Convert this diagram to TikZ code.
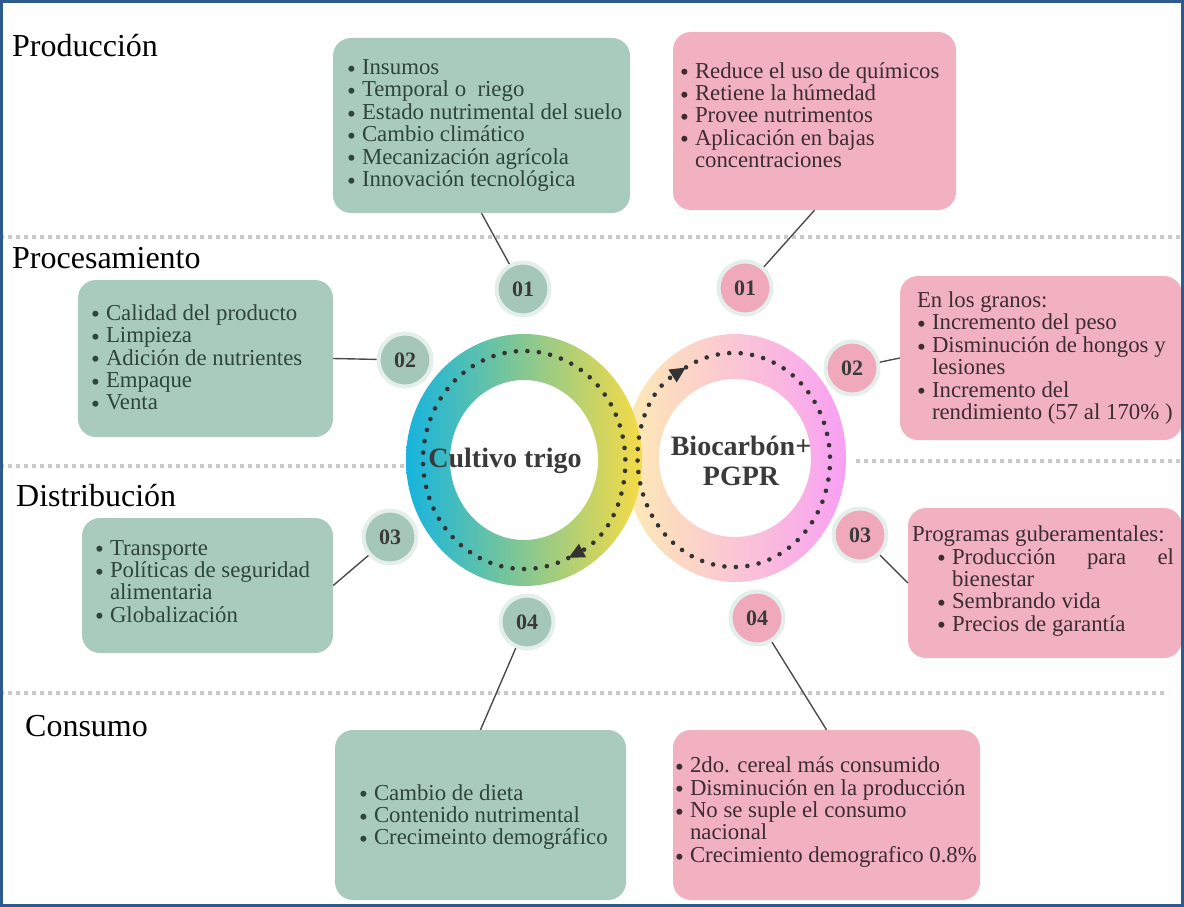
\documentclass[tikz,border=0pt]{standalone}
\usepackage{fontspec}
\setmainfont{Liberation Serif}
\usepackage{graphicx}
\usetikzlibrary{arrows.meta}

\definecolor{cajaverde}{HTML}{A9CBBE}
\definecolor{cajarosa}{HTML}{F2B1C1}
\definecolor{numverde}{HTML}{A4C7B9}
\definecolor{numrosa}{HTML}{EFA9BA}
\definecolor{halo}{HTML}{E4EEEB}
\definecolor{marco}{HTML}{2E5B8E}
\definecolor{gris}{HTML}{CACACA}
\definecolor{tverde}{HTML}{2E443C}
\definecolor{trosa}{HTML}{3D2C31}
\definecolor{tnum}{HTML}{3A3A3A}
\definecolor{cian}{HTML}{16B4DE}
\definecolor{verdeaz}{HTML}{6CC79E}
\definecolor{amarillo}{HTML}{F6DB45}
\definecolor{crema}{HTML}{FDEBB4}
\definecolor{rosap}{HTML}{FBCCD8}
\definecolor{magenta}{HTML}{F8A0F4}

\newcommand{\bul}{\raisebox{-.12em}{\scalebox{1.1}{\textbullet}}}
\newcommand{\vi}{\makebox[15pt][l]{\bul}}
\newcommand{\sg}{\hspace*{15pt}}

\begin{document}
\begin{tikzpicture}
  [x=1pt,y=-1pt,
   gcaja/.style={fill=cajaverde,rounded corners=18pt,inner sep=0pt},
   rcaja/.style={fill=cajarosa,rounded corners=18pt,inner sep=0pt},
   gtxt/.style={anchor=west,align=left,inner sep=0pt,text=tverde,font=\fontsize{22.8}{22.4}\selectfont},
   rtxt/.style={gtxt,text=trosa},
   gnum/.style={circle,fill=numverde,draw=halo,line width=4pt,minimum size=53pt,inner sep=0pt,text=tnum,font=\bfseries\fontsize{22}{22}\selectfont},
   rnum/.style={gnum,fill=numrosa},
   etapa/.style={anchor=base west,inner sep=0pt,font=\fontsize{32}{32}\selectfont},
   centro/.style={align=center,inner sep=0pt,text=tnum,font=\bfseries\fontsize{28}{30}\selectfont},
   sep/.style={gris,line width=3.5pt,dash pattern=on 4pt off 4pt},
   puntos/.style={line width=4.6pt,line cap=round,dash pattern=on 0pt off 11.5pt,color=black!80},
   conector/.style={draw=black!70,line width=1.4pt}]
  \useasboundingbox (0,0) rectangle (1184,907);

  % separadores
  \draw[sep] (0,237) -- (1180,237);
  \draw[sep] (0,466) -- (410,466);
  \draw[sep] (856,461) -- (1180,461);
  \draw[sep] (0,693) -- (1168,693);

  % etapas
  \node[etapa] (e1) at (12,57)  {Producción};
  \node[etapa] (e2) at (12,268) {Procesamiento};
  \node[etapa] (e3) at (16,506) {Distribución};
  \node[etapa] (e4) at (25,736) {Consumo};

  % anillos
  \shade[left color=crema,middle color=rosap,right color=magenta,even odd rule]
    (735,458) ellipse [x radius=111,y radius=124] (735,458) ellipse [x radius=76,y radius=79];
  \shade[left color=cian,middle color=verdeaz,right color=amarillo,even odd rule]
    (524,460) ellipse [x radius=118,y radius=126] (524,460) ellipse [x radius=74,y radius=80];
  \draw[puntos,-{Triangle[length=16pt,width=14pt]}] (524,460) ++(-296:101 and 109)
    arc [start angle=-296,end angle=64,x radius=101,y radius=109];
  \draw[puntos,-{Triangle[length=16pt,width=14pt]}] (734,460) ++(-120:96 and 107)
    arc [start angle=-120,end angle=240,x radius=96,y radius=107];
  \node[centro] (ct) at (505,461) {Cultivo trigo};
  \node[centro] (bp) at (741,461) {Biocarbón+\\PGPR};

  % cajas
  \node[gcaja,minimum width=297pt,minimum height=175pt] (b1) at (481.5,125.5) {};
  \node[rcaja,minimum width=283pt,minimum height=178pt] (b2) at (814.5,121) {};
  \node[gcaja,minimum width=255pt,minimum height=157pt] (b3) at (205.5,358.5) {};
  \node[rcaja,minimum width=282pt,minimum height=164pt] (b4) at (1041,358) {};
  \node[gcaja,minimum width=251pt,minimum height=135pt] (b5) at (207.5,585.5) {};
  \node[rcaja,minimum width=274pt,minimum height=150pt] (b6) at (1045,583) {};
  \node[gcaja,minimum width=291pt,minimum height=170pt] (b7) at (480.5,815) {};
  \node[rcaja,minimum width=307pt,minimum height=170pt] (b8) at (826.5,815) {};

  \node[gtxt] (t1) at ([xshift=14pt]b1.west)
    {\vi Insumos\\\vi Temporal o\ \ riego\\\vi Estado nutrimental del suelo\\
     \vi Cambio climático\\\vi Mecanización agrícola\\\vi Innovación tecnológica};
  \node[rtxt] (t2) at ([xshift=7pt,yshift=6pt]b2.west)
    {\vi Reduce el uso de químicos\\\vi Retiene la húmedad\\\vi Provee nutrimentos\\
     \vi Aplicación en bajas\\\sg concentraciones};
  \node[gtxt] (t3) at ([xshift=13pt]b3.west)
    {\vi Calidad del producto\\\vi Limpieza\\\vi Adición de nutrientes\\\vi Empaque\\\vi Venta};
  \node[rtxt] (t4) at ([xshift=17pt]b4.west)
    {En los granos:\\\vi Incremento del peso\\\vi Disminución de hongos y\\\sg lesiones\\
     \vi Incremento del\\\sg rendimiento (57 al 170\% )};
  \node[gtxt] (t5) at ([xshift=13pt,yshift=3pt]b5.west)
    {\vi Transporte\\\vi Políticas de seguridad\\\sg alimentaria\\\vi Globalización};
  \node[rtxt] (t6) at ([xshift=4pt,yshift=2pt]b6.west)
    {Programas guberamentales:\\
     \hspace*{25pt}\vi\makebox[222pt][s]{Producción para el}\\
     \hspace*{25pt}\sg bienestar\\
     \hspace*{25pt}\vi Sembrando vida\\
     \hspace*{25pt}\vi Precios de garantía};
  \node[gtxt] (t7) at ([xshift=24pt,yshift=-2pt]b7.west)
    {\vi Cambio de dieta\\\vi Contenido nutrimental\\\vi Crecimeinto demográfico};
  \node[rtxt] (t8) at ([xshift=2pt,yshift=3pt]b8.west)
    {\vi 2do. cereal más consumido\\\vi Disminución en la producción\\
     \vi No se suple el consumo\\\sg nacional\\\vi Crecimiento demografico 0.8\%};

  % numeros
  \node[gnum] (g1) at (523,289) {01};
  \node[rnum] (p1) at (745,288) {01};
  \node[gnum] (g2) at (405,360) {02};
  \node[rnum] (p2) at (852,368) {02};
  \node[gnum] (g3) at (390,537) {03};
  \node[rnum] (p3) at (860,535) {03};
  \node[gnum] (g4) at (527,622) {04};
  \node[rnum] (p4) at (757,618) {04};

\foreach \from/\to in
{g1/b1.south, p1/b2.south, g2/b3.east, p2/b4.west, g3/b5.east, p3/b6.west, g4/b7.north, p4/b8.north}
    \draw[conector] (\from) -- (\to);

  \draw[marco,line width=3pt] (1.5,1.5) rectangle (1182.5,905.5);
\end{tikzpicture}
\end{document}
